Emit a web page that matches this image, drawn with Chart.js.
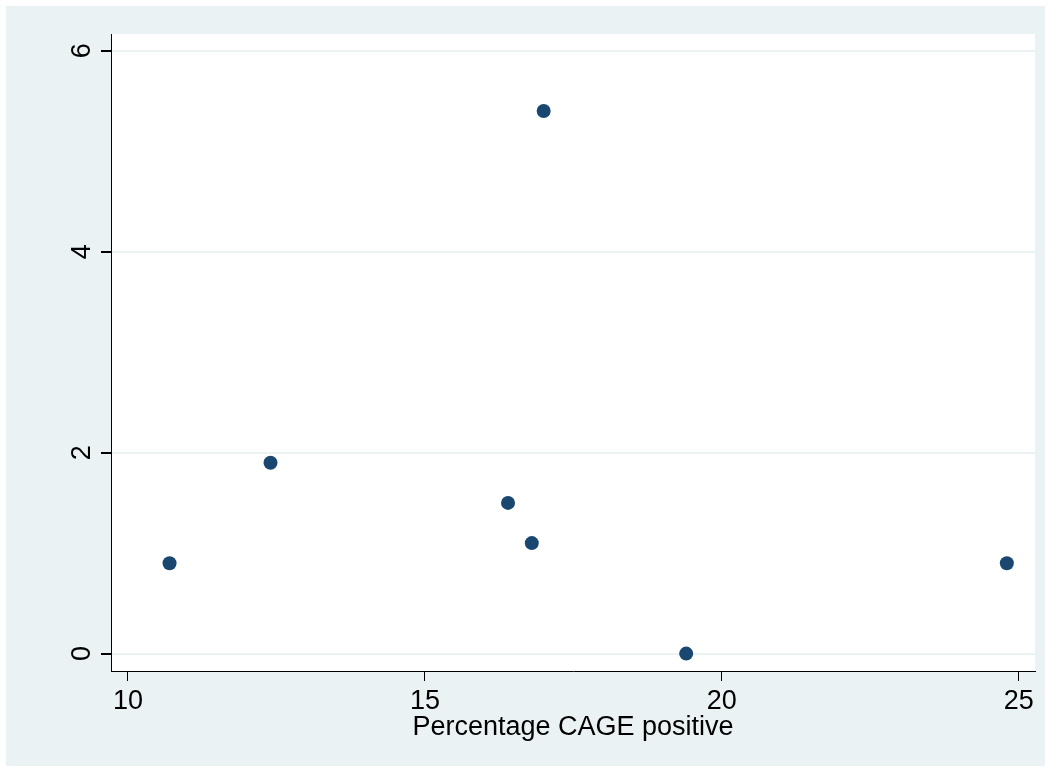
<!DOCTYPE html>
<html>
<head>
<meta charset="utf-8">
<script src="https://cdn.jsdelivr.net/npm/chart.js@4"></script>
<style>
    html, body { margin: 0; padding: 0; background: #fff; }
    #frame { position: absolute; left: 6px; top: 6px; width: 1039px; height: 760px; background: #eaf2f3; }
</style>
</head>
<body>
<div id="frame"><canvas id="chart" width="1039" height="760"></canvas></div>
<script>
// Data
const cagePositive = [10.7, 12.4, 16.4, 16.8, 17.0, 19.4, 24.8];
const outcomeValues = [0.9, 1.9, 1.5, 1.1, 5.4, 0.0, 0.9];
const xTickValues = [10, 15, 20, 25];
const yTickValues = [0, 2, 4, 6];
const xTitle = 'Percentage CAGE positive';

const navy = '#1a476f';
const bgColor = '#eaf2f3';
const fontFamily = '"Liberation Sans", Arial, sans-serif';

const points = cagePositive.map((x, i) => ({ x, y: outcomeValues[i] }));

// Stata-style: plot region white, outer region tinted
const plotBg = {
    id: 'plotBg',
    beforeDraw(chart) {
        const { ctx, chartArea: a } = chart;
        ctx.save();
        ctx.fillStyle = '#fff';
        ctx.fillRect(a.left, a.top, a.right - a.left, a.bottom - a.top);
        ctx.restore();
    }
};

new Chart(document.getElementById('chart'), {
    type: 'scatter',
    data: {
        datasets: [{
            data: points,
            backgroundColor: navy,
            borderColor: navy,
            borderWidth: 0,
            pointRadius: 7,
            pointHoverRadius: 7
        }]
    },
    options: {
        responsive: false,
        animation: false,
        layout: { padding: { left: 0, right: 10, top: 28, bottom: 0 } },
        plugins: { legend: { display: false }, tooltip: { enabled: false } },
        scales: {
            x: {
                type: 'linear',
                min: 9.714,
                max: 25.274,
                afterBuildTicks: s => { s.ticks = xTickValues.map(v => ({ value: v })); },
                afterFit: s => { s.height = 95; },
                grid: { display: true, drawOnChartArea: false, drawTicks: true, tickLength: 10, tickColor: '#000' },
                border: { display: true, color: '#000', width: 1 },
                ticks: { color: '#000', padding: 7, maxRotation: 0, font: { family: fontFamily, size: 27, lineHeight: 1 } },
                title: {
                    display: true, text: xTitle, color: '#000',
                    font: { family: fontFamily, size: 27, lineHeight: 1.2 },
                    padding: { top: 0, bottom: 22 }
                }
            },
            y: {
                type: 'linear',
                min: -0.173,
                max: 6.166,
                afterBuildTicks: s => { s.ticks = yTickValues.map(v => ({ value: v })); },
                afterFit: s => { s.width = 105; },
                grid: { color: bgColor, lineWidth: 2, drawTicks: true, tickLength: 10, tickColor: '#000' },
                border: { display: true, color: '#000', width: 1 },
                ticks: {
                    color: '#000', padding: 11, minRotation: 90, maxRotation: 90, crossAlign: 'center',
                    font: { family: fontFamily, size: 27, lineHeight: 1 }
                }
            }
        }
    },
    plugins: [plotBg]
});
</script>
</body>
</html>
